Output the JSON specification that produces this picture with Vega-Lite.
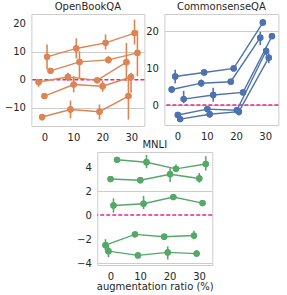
{
  "$schema": "https://vega.github.io/schema/vega-lite/v6.json",
  "padding": {"left": 3, "top": 1, "right": 2, "bottom": 0},
  "background": "white",
  "config": {
    "font": "DejaVu Sans",
    "view": {"stroke": "#cccccc", "strokeWidth": 1},
    "axis": {"domain": false, "ticks": false, "labelFontSize": 10, "labelColor": "#262626", "labelOverlap": false, "labelFlush": false, "gridColor": "#cccccc", "gridWidth": 1, "titleFontWeight": "normal", "titleFontSize": 10, "titleColor": "#262626"},
    "axisX": {"grid": false, "labelPadding": 6},
    "axisY": {"labelPadding": 6},
    "title": {"fontSize": 10, "fontWeight": "normal", "color": "#262626", "offset": 2}
  },
  "datasets": {
    "obqa": [
      {"s": "A", "x": 0.9, "y": 8.2, "lo": 3.7, "hi": 12.6},
      {"s": "A", "x": 11, "y": 11.2, "lo": 7.6, "hi": 14.8},
      {"s": "A", "x": 21.1, "y": 13.2, "lo": 10.8, "hi": 16.2},
      {"s": "A", "x": 31.1, "y": 16.7, "lo": 12.6, "hi": 21.5},
      {"s": "B", "x": 2.1, "y": 3.2, "lo": 2.4, "hi": 4.0},
      {"s": "B", "x": 12.1, "y": 6.4, "lo": 0.7, "hi": 10.2},
      {"s": "B", "x": 22.1, "y": 7.1, "lo": 5.8, "hi": 8.5},
      {"s": "B", "x": 32.1, "y": 9.6, "lo": 1.3, "hi": 17.6},
      {"s": "C", "x": -2, "y": -0.8, "lo": -2.6, "hi": 0.1},
      {"s": "C", "x": 8.1, "y": 1.0, "lo": -0.5, "hi": 2.5},
      {"s": "C", "x": 18.2, "y": -0.2, "lo": -0.6, "hi": 0.2},
      {"s": "C", "x": 28.3, "y": 6.3, "lo": -0.5, "hi": 13.2},
      {"s": "D", "x": 0, "y": -5.8, "lo": -6.3, "hi": -5.3},
      {"s": "D", "x": 10.1, "y": -1.7, "lo": -4.5, "hi": 1.3},
      {"s": "D", "x": 20.1, "y": -2.3, "lo": -4.3, "hi": -0.3},
      {"s": "D", "x": 29.9, "y": 1.0, "lo": -4.6, "hi": 2.5},
      {"s": "E", "x": -0.8, "y": -13.3, "lo": -14.5, "hi": -12.1},
      {"s": "E", "x": 9, "y": -10.6, "lo": -13.8, "hi": -7.4},
      {"s": "E", "x": 19, "y": -11.4, "lo": -14.2, "hi": -8.8},
      {"s": "E", "x": 29, "y": -5.8, "lo": -14.2, "hi": 1.3}
    ],
    "csqa": [
      {"s": "A", "x": -0.8, "y": 7.7, "lo": 5.9, "hi": 9.5},
      {"s": "A", "x": 9.1, "y": 8.8, "lo": 8.3, "hi": 9.3},
      {"s": "A", "x": 19.2, "y": 9.9, "lo": 9.5, "hi": 10.3},
      {"s": "A", "x": 29.2, "y": 22.3, "lo": 21.8, "hi": 22.8},
      {"s": "B", "x": -2, "y": 4.2, "lo": 3.9, "hi": 4.5},
      {"s": "B", "x": 8.1, "y": 5.9, "lo": 4.9, "hi": 6.9},
      {"s": "B", "x": 18.2, "y": 6.3, "lo": 5.9, "hi": 6.7},
      {"s": "B", "x": 28.3, "y": 18.2, "lo": 16.2, "hi": 19.8},
      {"s": "C", "x": 2.1, "y": 1.6, "lo": 0.5, "hi": 3.8},
      {"s": "C", "x": 12.2, "y": 2.7, "lo": 0.9, "hi": 4.7},
      {"s": "C", "x": 22.4, "y": 3.4, "lo": 3.0, "hi": 3.8},
      {"s": "C", "x": 32.3, "y": 18.6, "lo": 18.3, "hi": 18.9},
      {"s": "D", "x": 0.1, "y": -2.7, "lo": -3.3, "hi": -2.0},
      {"s": "D", "x": 10.2, "y": -1.1, "lo": -1.5, "hi": -0.7},
      {"s": "D", "x": 20.3, "y": -1.4, "lo": -1.8, "hi": -1.0},
      {"s": "D", "x": 30.3, "y": 14.6, "lo": 13.5, "hi": 15.7},
      {"s": "E", "x": 0.9, "y": -3.8, "lo": -4.2, "hi": -3.4},
      {"s": "E", "x": 11, "y": -2.5, "lo": -3.4, "hi": -1.6},
      {"s": "E", "x": 21, "y": -1.8, "lo": -2.8, "hi": -0.8},
      {"s": "E", "x": 31.2, "y": 12.8, "lo": 11.3, "hi": 14.0}
    ],
    "mnli": [
      {"s": "A", "x": 2.2, "y": 4.6, "lo": 4.5, "hi": 4.7},
      {"s": "A", "x": 12.2, "y": 4.4, "lo": 3.9, "hi": 5.0},
      {"s": "A", "x": 22.2, "y": 3.85, "lo": 3.6, "hi": 4.2},
      {"s": "A", "x": 32.3, "y": 4.25, "lo": 3.7, "hi": 4.9},
      {"s": "B", "x": 0, "y": 3.0, "lo": 2.9, "hi": 3.1},
      {"s": "B", "x": 10.1, "y": 2.9, "lo": 2.8, "hi": 3.0},
      {"s": "B", "x": 20.2, "y": 3.4, "lo": 2.75, "hi": 3.9},
      {"s": "B", "x": 30.1, "y": 3.05, "lo": 2.7, "hi": 3.5},
      {"s": "C", "x": 1, "y": 0.8, "lo": 0.2, "hi": 1.4},
      {"s": "C", "x": 11.2, "y": 0.95, "lo": 0.5, "hi": 1.6},
      {"s": "C", "x": 21.3, "y": 1.5, "lo": 1.3, "hi": 1.7},
      {"s": "C", "x": 31.2, "y": 1.0, "lo": 0.9, "hi": 1.1},
      {"s": "D", "x": -1.7, "y": -2.5, "lo": -2.9, "hi": -2.0},
      {"s": "D", "x": 8.3, "y": -1.6, "lo": -1.8, "hi": -1.4},
      {"s": "D", "x": 18.2, "y": -1.8, "lo": -1.9, "hi": -1.7},
      {"s": "D", "x": 28.3, "y": -1.7, "lo": -2.0, "hi": -1.3},
      {"s": "E", "x": -0.7, "y": -3.0, "lo": -3.5, "hi": -2.5},
      {"s": "E", "x": 9.3, "y": -3.35, "lo": -3.45, "hi": -3.25},
      {"s": "E", "x": 19.4, "y": -3.1, "lo": -3.7, "hi": -2.6},
      {"s": "E", "x": 29.2, "y": -3.2, "lo": -3.45, "hi": -2.9}
    ],
    "zero": [{"z": 0}]
  },
  "vconcat": [
    {
      "spacing": -2,
      "hconcat": [
        {
          "title": "OpenBookQA",
          "width": 113, "height": 112,
          "resolve": {"axis": {"x": "independent", "y": "independent"}},
          "layer": [
            {"data": {"name": "obqa"}, "mark": {"type": "circle", "color": "#dd8452", "opacity": 1, "size": 40}, "encoding": {
              "x": {"field": "x", "type": "quantitative", "scale": {"domain": [-4.5, 34.5], "nice": false, "zero": false}, "axis": {"values": [0, 20], "title": null, "orient": "bottom"}},
              "y": {"field": "y", "type": "quantitative", "scale": {"domain": [-16.5, 23.5], "nice": false, "zero": false}, "axis": {"values": [-10, 10], "title": null, "orient": "left"}}}},
            {"data": {"name": "zero"}, "mark": {"type": "rule", "color": "#dc2a92", "strokeDash": [4, 2], "strokeWidth": 1.5}, "encoding": {"y": {"field": "z", "type": "quantitative", "axis": null}}},
            {"data": {"name": "obqa"}, "mark": {"type": "rule", "color": "#dd8452", "strokeWidth": 1.6}, "encoding": {"x": {"field": "x", "type": "quantitative", "axis": {"values": [10, 30], "title": null, "orient": "bottom"}}, "y": {"field": "lo", "type": "quantitative", "axis": {"values": [0, 20], "title": null, "orient": "left"}}, "y2": {"field": "hi"}}},
            {"data": {"name": "obqa"}, "mark": {"type": "line", "color": "#dd8452", "strokeWidth": 1.4}, "encoding": {"x": {"field": "x", "type": "quantitative", "axis": null}, "y": {"field": "y", "type": "quantitative", "axis": null}, "detail": {"field": "s"}}},
            {"data": {"name": "obqa"}, "mark": {"type": "circle", "color": "#dd8452", "opacity": 1, "size": 40}, "encoding": {"x": {"field": "x", "type": "quantitative", "axis": null}, "y": {"field": "y", "type": "quantitative", "axis": null}}}
          ]
        },
        {
          "title": "CommonsenseQA",
          "width": 114, "height": 111,
          "resolve": {"axis": {"x": "independent", "y": "independent"}},
          "layer": [
            {"data": {"name": "csqa"}, "mark": {"type": "circle", "color": "#4c72b0", "opacity": 1, "size": 40}, "encoding": {
              "x": {"field": "x", "type": "quantitative", "scale": {"domain": [-4.5, 34.5], "nice": false, "zero": false}, "axis": {"values": [0, 20], "title": null, "orient": "bottom"}},
              "y": {"field": "y", "type": "quantitative", "scale": {"domain": [-5.4, 24.6], "nice": false, "zero": false}, "axis": {"values": [0, 20], "title": null, "orient": "left"}}}},
            {"data": {"name": "zero"}, "mark": {"type": "rule", "color": "#dc2a92", "strokeDash": [4, 2], "strokeWidth": 1.5}, "encoding": {"y": {"field": "z", "type": "quantitative", "axis": null}}},
            {"data": {"name": "csqa"}, "mark": {"type": "rule", "color": "#4c72b0", "strokeWidth": 1.6}, "encoding": {"x": {"field": "x", "type": "quantitative", "axis": {"values": [10, 30], "title": null, "orient": "bottom"}}, "y": {"field": "lo", "type": "quantitative", "axis": {"values": [10], "title": null, "orient": "left"}}, "y2": {"field": "hi"}}},
            {"data": {"name": "csqa"}, "mark": {"type": "line", "color": "#4c72b0", "strokeWidth": 1.4}, "encoding": {"x": {"field": "x", "type": "quantitative", "axis": null}, "y": {"field": "y", "type": "quantitative", "axis": null}, "detail": {"field": "s"}}},
            {"data": {"name": "csqa"}, "mark": {"type": "circle", "color": "#4c72b0", "opacity": 1, "size": 40}, "encoding": {"x": {"field": "x", "type": "quantitative", "axis": null}, "y": {"field": "y", "type": "quantitative", "axis": null}}}
          ]
        }
      ]
    },
    {
      "title": "MNLI",
      "width": 115, "height": 113,
      "resolve": {"axis": {"x": "independent", "y": "independent"}},
      "layer": [
        {"data": {"name": "mnli"}, "mark": {"type": "circle", "color": "#55a868", "opacity": 1, "size": 40}, "encoding": {
          "x": {"field": "x", "type": "quantitative", "scale": {"domain": [-4.5, 34.5], "nice": false, "zero": false}, "axis": {"values": [0, 20], "title": "augmentation ratio (%)", "titlePadding": 0, "orient": "bottom"}},
          "y": {"field": "y", "type": "quantitative", "scale": {"domain": [-4.15, 5.25], "nice": false, "zero": false}, "axis": {"values": [-4, 2], "title": null, "minExtent": 24, "orient": "left"}}}},
        {"data": {"name": "zero"}, "mark": {"type": "rule", "color": "#dc2a92", "strokeDash": [4, 2], "strokeWidth": 1.5}, "encoding": {"y": {"field": "z", "type": "quantitative", "axis": {"values": [0], "title": null, "minExtent": 24, "orient": "left"}}}},
        {"data": {"name": "mnli"}, "mark": {"type": "rule", "color": "#55a868", "strokeWidth": 1.6}, "encoding": {"x": {"field": "x", "type": "quantitative", "axis": {"values": [10, 30], "title": null, "orient": "bottom"}}, "y": {"field": "lo", "type": "quantitative", "axis": {"values": [-2, 4], "title": null, "minExtent": 24, "orient": "left"}}, "y2": {"field": "hi"}}},
        {"data": {"name": "mnli"}, "mark": {"type": "line", "color": "#55a868", "strokeWidth": 1.4}, "encoding": {"x": {"field": "x", "type": "quantitative", "axis": null}, "y": {"field": "y", "type": "quantitative", "axis": null}, "detail": {"field": "s"}}},
        {"data": {"name": "mnli"}, "mark": {"type": "circle", "color": "#55a868", "opacity": 1, "size": 40}, "encoding": {"x": {"field": "x", "type": "quantitative", "axis": null}, "y": {"field": "y", "type": "quantitative", "axis": null}}}
      ]
    }
  ],
  "center": true,
  "spacing": -4
}
